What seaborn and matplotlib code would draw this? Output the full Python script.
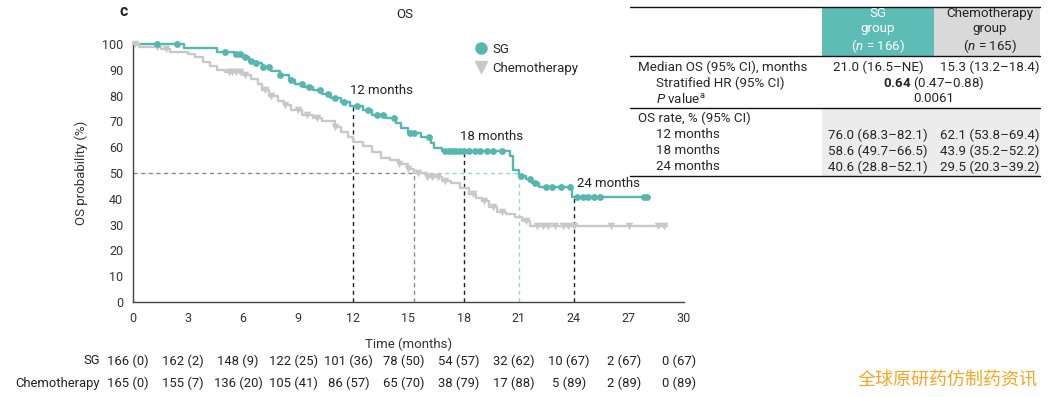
import matplotlib
matplotlib.use("Agg")
import matplotlib.pyplot as plt
from matplotlib.lines import Line2D
from matplotlib.patches import Rectangle
import numpy as np
import pandas as pd
import seaborn as sns

TEAL = "#55b7af"
TEAL_HEAD = "#5dbdb6"
GRAY = "#c8c8c8"
GRAY_HEAD = "#d9d9d9"
GRAY_FILL = "#ececec"
DARK = "#333333"

# Kaplan-Meier steps (months, OS %)
sg_times = [0, 2.8, 4.6, 5.5, 6.0, 6.3, 6.6, 7.0, 7.5, 8.0, 8.5, 8.8, 9.3, 9.8, 10.3,
            10.8, 11.3, 11.8, 12.5, 13.0, 13.8, 14.3, 14.6, 15.0, 15.7, 16.2, 16.4,
            16.8, 20.5, 20.7, 21.0, 21.4, 21.7, 22.1, 23.9, 28.0]
sg_surv = [100, 98.5, 97, 96, 95, 93.5, 92.5, 91, 89.5, 88, 86, 84.5, 83.5, 82, 80.5,
           79, 77.5, 76, 74.5, 72.5, 71.5, 69.5, 67.5, 65.5, 64, 61.5, 59.5,
           58.6, 56.5, 51, 49, 47.5, 46, 44.5, 40.6, 40.6]
sg_censor = [1.3, 2.4, 5.0, 5.6, 5.8, 6.1, 6.4, 6.7, 7.1, 7.4, 8.0, 8.6, 9.2, 9.6,
             10.2, 10.6, 11.0, 11.5, 12.2, 12.8, 13.3, 13.6, 14.2, 15.1, 15.3, 16.1,
             17.0, 17.2, 17.4, 17.6, 17.8, 18.0, 18.3, 18.6, 18.9, 19.3, 19.6, 20.1,
             21.1, 21.6, 21.9, 22.5, 22.8, 23.3, 23.8, 24.2, 24.5, 24.8, 25.1, 25.4,
             27.8, 28.0]

chemo_times = [0, 0.3, 1.5, 2.0, 3.0, 3.4, 3.8, 4.2, 4.6, 5.0, 6.0, 6.4, 6.8, 7.0, 7.4,
               7.9, 8.2, 8.6, 9.2, 9.8, 10.3, 11.0, 11.3, 11.7, 12.0, 12.5, 13.0, 13.5,
               14.0, 14.5, 15.0, 15.3, 16.0, 16.8, 17.3, 17.8, 18.3, 18.7, 19.0, 19.4,
               19.8, 20.3, 20.8, 21.2, 21.6, 29.1]
chemo_surv = [100, 99, 98, 97, 96, 95, 93, 91.5, 90, 89, 88, 86.5, 84.5, 82, 80,
              78, 76.5, 74.5, 72.5, 71.5, 70, 68, 66, 64, 62.1, 60.5, 58, 56,
              55, 53.5, 51.5, 50, 48.5, 47, 46, 44, 42, 40.5, 39, 37,
              35, 34, 33, 31.5, 29.5, 29.5]
chemo_censor = [0.1, 1.3, 1.8, 5.2, 5.4, 5.6, 5.8, 6.1, 7.2, 7.5, 8.3, 9.0, 9.5, 10.0,
                11.0, 14.5, 15.0, 15.5, 16.0, 16.3, 16.6, 17.0, 18.5, 19.1, 19.6, 20.1,
                21.4, 22.0, 22.3, 22.6, 23.0, 23.4, 23.7, 24.0, 26.0, 27.0, 28.6, 28.9]

# landmark and median values
landmarks = [12, 18, 24]
sg_landmark_rate = [76.0, 58.6, 40.6]
sg_median = 21.0
chemo_median = 15.3

# numbers at risk (events)
risk_times = [0, 3, 6, 9, 12, 15, 18, 21, 24, 27, 30]
sg_n = [166, 162, 148, 122, 101, 78, 54, 32, 10, 2, 0]
sg_events = [0, 2, 9, 25, 36, 50, 57, 62, 67, 67, 67]
chemo_n = [165, 155, 136, 105, 86, 65, 38, 17, 5, 2, 0]
chemo_events = [0, 7, 20, 41, 57, 70, 79, 88, 89, 89, 89]

# summary table
median_os = ["21.0 (16.5–NE)", "15.3 (13.2–18.4)"]
hr_value = "0.64"
hr_ci = "(0.47–0.88)"
p_value = "0.0061"
rate_rows = ["12 months", "18 months", "24 months"]
sg_rates = ["76.0 (68.3–82.1)", "58.6 (49.7–66.5)", "40.6 (28.8–52.1)"]
chemo_rates = ["62.1 (53.8–69.4)", "43.9 (35.2–52.2)", "29.5 (20.3–39.2)"]


def step_value(times, surv, t):
    i = np.searchsorted(times, t, side="right") - 1
    return surv[max(i, 0)]


sns.set_theme(style="white")
plt.rcParams["font.family"] = ["Roboto", "DejaVu Sans"]
plt.rcParams["mathtext.fontset"] = "custom"
plt.rcParams["mathtext.rm"] = "Roboto"
plt.rcParams["mathtext.it"] = "Roboto:italic"
plt.rcParams["mathtext.bf"] = "Roboto:bold"

W, H = 1057, 397
fig = plt.figure(figsize=(W / 100, H / 100), dpi=100)
ax = fig.add_axes([133 / W, 1 - 302 / H, 551 / W, 258 / H])

curves = pd.concat([
    pd.DataFrame({"time": sg_times, "surv": sg_surv, "group": "SG"}),
    pd.DataFrame({"time": chemo_times, "surv": chemo_surv, "group": "Chemotherapy"}),
])
palette = {"SG": TEAL, "Chemotherapy": GRAY}
sns.lineplot(data=curves, x="time", y="surv", hue="group", palette=palette,
             estimator=None, sort=False, drawstyle="steps-post", linewidth=1.7,
             legend=False, ax=ax, clip_on=False, zorder=3)

cens = pd.concat([
    pd.DataFrame({"time": sg_censor,
                  "surv": [step_value(sg_times, sg_surv, t) for t in sg_censor],
                  "group": "SG"}),
    pd.DataFrame({"time": chemo_censor,
                  "surv": [step_value(chemo_times, chemo_surv, t) for t in chemo_censor],
                  "group": "Chemotherapy"}),
])
sns.scatterplot(data=cens[cens.group == "Chemotherapy"], x="time", y="surv", marker="v",
                color=GRAY, s=30, linewidth=0, legend=False, ax=ax, clip_on=False, zorder=3)
sns.scatterplot(data=cens[cens.group == "SG"], x="time", y="surv", marker="o",
                color=TEAL, s=24, linewidth=0, legend=False, ax=ax, clip_on=False, zorder=4)

# reference lines
dash = (0, (3, 2.5))
for t, r in zip(landmarks, sg_landmark_rate):
    ax.plot([t, t], [0, r], color="#222222", lw=1, ls=dash, zorder=2)
ax.plot([0, chemo_median], [50, 50], color="#8a8a8a", lw=1, ls=dash, zorder=2)
ax.plot([chemo_median, sg_median], [50, 50], color="#9fd2cd", lw=1, ls=dash, zorder=2)
ax.plot([chemo_median, chemo_median], [0, 50], color="#8a8a8a", lw=1, ls=dash, zorder=2)
ax.plot([sg_median, sg_median], [0, 50], color="#9fd2cd", lw=1, ls=dash, zorder=2)

ax.text(11.8, 79.5, "12 months", fontsize=9.5, color="#222222", va="bottom")
ax.text(17.8, 61.5, "18 months", fontsize=9.5, color="#222222", va="bottom")
ax.text(24.2, 43.5, "24 months", fontsize=9.5, color="#222222", va="bottom")

ax.set_xlim(0, 30)
ax.set_ylim(0, 100)
ax.set_xticks(range(0, 31, 3))
ax.set_yticks(range(0, 101, 10))
ax.tick_params(direction="out", length=4, width=1, color="#444444",
               labelsize=9, labelcolor=DARK, pad=3)
for side in ["top", "right"]:
    ax.spines[side].set_visible(False)
for side in ["left", "bottom"]:
    ax.spines[side].set_color("#444444")
    ax.spines[side].set_linewidth(1)
ax.set_xlabel("Time (months)", fontsize=9.5, color=DARK)
ax.set_ylabel("OS probability (%)", fontsize=9.5, color=DARK)
ax.xaxis.set_label_coords(0.5, (302 - 338) / 258)
ax.yaxis.set_label_coords((88 - 133) / 551, 0.5)

handles = [
    Line2D([], [], marker="o", color=TEAL, ls="none", markersize=8),
    Line2D([], [], marker="v", color=GRAY, ls="none", markersize=8),
]
ax.legend(handles, ["SG", "Chemotherapy"], loc="upper left",
          bbox_to_anchor=(0.595, 1.05), frameon=False, fontsize=9.5,
          handletextpad=0.3, labelspacing=0.45, handlelength=1.2)

# overlay in pixel coordinates for text and table
ov = fig.add_axes([0, 0, 1, 1])
ov.set_xlim(0, W)
ov.set_ylim(H, 0)
ov.axis("off")

ov.text(124, 12, "c", fontsize=11.5, fontweight="bold", ha="center", va="center")
ov.text(405, 15, "OS", fontsize=9.5, ha="center", va="center", color="#222222")

# number at risk rows, centred under the x ticks
tick_px = ax.transData.transform([(t, 0) for t in risk_times])[:, 0]
for label, ns, evs, y in [("SG", sg_n, sg_events, 361),
                          ("Chemotherapy", chemo_n, chemo_events, 383)]:
    ov.text(100, y, label, fontsize=9.4, ha="right", va="center", color="#222222")
    for xp, n, e in zip(tick_px, ns, evs):
        ov.text(xp - 5, y, f"{n} ({e})", fontsize=9.4, ha="center", va="center",
                color="#222222")

# summary table
x0, x1, x2, x3 = 630, 822, 934, 1040
c_sg, c_ch, c_mid = 878, 990, 934
ov.add_patch(Rectangle((x1, 7), x2 - x1, 49, color=TEAL_HEAD, lw=0))
ov.add_patch(Rectangle((x2, 7), x3 - x2, 49, color=GRAY_HEAD, lw=0))
ov.add_patch(Rectangle((x1, 108), x3 - x1, 68, color=GRAY_FILL, lw=0))
for y in [7, 56, 108, 176]:
    ov.plot([x0, x3], [y, y], color="#111111", lw=1)

fs = 9.6
ov.text(c_sg, 31, "SG\ngroup\n($n$ = 166)", fontsize=fs, color="white",
        ha="center", va="center", linespacing=1.15)
ov.text(c_ch, 31, "Chemotherapy\ngroup\n($n$ = 165)", fontsize=fs, color="#222222",
        ha="center", va="center", linespacing=1.15)

ov.text(638, 67, "Median OS (95% CI), months", fontsize=fs, va="center")
ov.text(c_sg, 67, median_os[0], fontsize=fs, ha="center", va="center")
ov.text(c_ch, 67, median_os[1], fontsize=fs, ha="center", va="center")
ov.text(656, 83, "Stratified HR (95% CI)", fontsize=fs, va="center")
ov.text(c_mid, 83, r"$\bf{" + hr_value + "}$ " + hr_ci, fontsize=fs, ha="center", va="center")
ov.text(656, 99, r"$P$ value$^{\rm a}$", fontsize=fs, va="center")
ov.text(c_mid, 99, p_value, fontsize=fs, ha="center", va="center")

ov.text(638, 118, "OS rate, % (95% CI)", fontsize=fs, va="center")
for i, (lab, a, b) in enumerate(zip(rate_rows, sg_rates, chemo_rates)):
    y = 135 + 16 * i
    ov.text(656, y, lab, fontsize=fs, va="center")
    ov.text(c_sg, y, a, fontsize=fs, ha="center", va="center")
    ov.text(c_ch, y, b, fontsize=fs, ha="center", va="center")

ov.text(948, 380, "全球原研药仿制药资讯", fontsize=13, color="#f5a623",
        ha="center", va="center", family=["Noto Sans CJK SC", "DejaVu Sans"])

fig.savefig("out.png", dpi=100)
